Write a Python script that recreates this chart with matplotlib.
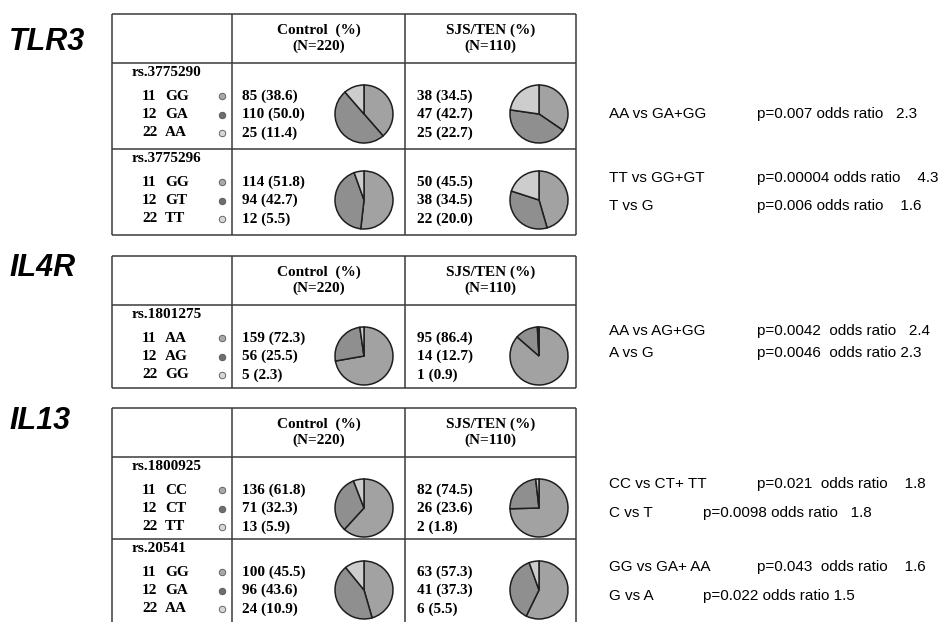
import matplotlib.pyplot as plt

# figure in pixel units (953 x 622), y measured from the top
W, H = 953, 622

genes = ['TLR3', 'IL4R', 'IL13']
snps = ['rs.3775290', 'rs.3775296', 'rs.1801275', 'rs.1800925', 'rs.20541']
snp_gene = [0, 0, 1, 2, 2]
codes = ['11', '12', '22']
genotypes = [['GG', 'GA', 'AA'], ['GG', 'GT', 'TT'], ['AA', 'AG', 'GG'],
             ['CC', 'CT', 'TT'], ['GG', 'GA', 'AA']]

control_n = [[85, 110, 25], [114, 94, 12], [159, 56, 5], [136, 71, 13], [100, 96, 24]]
control_pct = [[38.6, 50.0, 11.4], [51.8, 42.7, 5.5], [72.3, 25.5, 2.3],
               [61.8, 32.3, 5.9], [45.5, 43.6, 10.9]]
case_n = [[38, 47, 25], [50, 38, 22], [95, 14, 1], [82, 26, 2], [63, 41, 6]]
case_pct = [[34.5, 42.7, 22.7], [45.5, 34.5, 20.0], [86.4, 12.7, 0.9],
            [74.5, 23.6, 1.8], [57.3, 37.3, 5.5]]

col_headers = ['Control  (%)\n(N=220)', 'SJS/TEN (%)\n(N=110)']

# association results written at the right of each snp
tests = [
    [('AA vs GA+GG', 'p=0.007 odds ratio   2.3')],
    [('TT vs GG+GT', 'p=0.00004 odds ratio    4.3'), ('T vs G', 'p=0.006 odds ratio    1.6')],
    [('AA vs AG+GG', 'p=0.0042  odds ratio   2.4'), ('A vs G', 'p=0.0046  odds ratio 2.3')],
    [('CC vs CT+ TT', 'p=0.021  odds ratio    1.8'), ('C vs T', 'p=0.0098 odds ratio   1.8')],
    [('GG vs GA+ AA', 'p=0.043  odds ratio    1.6'), ('G vs A', 'p=0.022 odds ratio 1.5')],
]

# layout (pixels)
table_tops = [14, 256, 408]
header_h = 49
block_h = [86, 86, 83, 82, 86]
x_left, x_c1, x_c2, x_right = 112, 232, 405, 576
test_y = [[114], [178, 206], [331, 353], [484, 513], [567, 596]]
test_px = [[757], [757, 757], [757, 757], [757, 703], [757, 703]]

slice_colors = ['#a2a2a2', '#8f8f8f', '#cdcdcd']
dot_colors = ['#a8a8a8', '#6e6e6e', '#d6d6d6']
line_col = '#3a3a3a'
serif = 'Liberation Serif'
sans = 'Liberation Sans'


def Y(y):
    return H - y


fig = plt.figure(figsize=(W / 100, H / 100), dpi=100)
ax = fig.add_axes([0, 0, 1, 1])


def hline(x0, x1, y):
    ax.plot([x0, x1], [Y(y), Y(y)], color=line_col, lw=1.1, solid_capstyle='butt')


def vline(x, y0, y1):
    ax.plot([x, x], [Y(y0), Y(y1)], color=line_col, lw=1.1, solid_capstyle='butt')


label_y = [42, 268, 421]
for g, gene in enumerate(genes):
    ax.text(9, Y(label_y[g]), gene, fontsize=22, fontweight='bold', fontstyle='italic',
            family=sans, ha='left', va='center')

    top = table_tops[g]
    members = [i for i in range(len(snps)) if snp_gene[i] == g]
    bottom = top + header_h + sum(block_h[i] for i in members)
    bottom = min(bottom, H + 5)

    hline(x_left, x_right, top)
    hline(x_left, x_right, top + header_h)
    if bottom < H:
        hline(x_left, x_right, bottom)
    for x in [x_left, x_c1, x_c2, x_right]:
        vline(x, top, bottom)

    ax.text((x_c1 + x_c2) / 2, Y(top + header_h / 2), col_headers[0], fontsize=11,
            family=serif, fontweight='bold', ha='center', va='center', linespacing=1.25)
    ax.text((x_c2 + x_right) / 2, Y(top + header_h / 2), col_headers[1], fontsize=11,
            family=serif, fontweight='bold', ha='center', va='center', linespacing=1.25)

    y0 = top + header_h
    for i in members:
        if y0 != top + header_h:
            hline(x_left, x_right, y0)
        ax.text(132, Y(y0 + 10), snps[i], fontsize=11, family=serif, fontweight='bold',
                ha='left', va='center')
        for k in range(3):
            ry = y0 + 33 + 18.5 * k
            ax.text(142, Y(ry), codes[k], fontsize=11, family=serif, fontweight='bold',
                    ha='left', va='center')
            ax.text(165, Y(ry), genotypes[i][k], fontsize=11, family=serif,
                    fontweight='bold', ha='left', va='center')
            ax.scatter([222], [Y(ry)], s=22, color=dot_colors[k], edgecolors='#555555',
                       linewidths=0.6, zorder=3)
            ax.text(x_c1 + 10, Y(ry), f'{control_n[i][k]} ({control_pct[i][k]:.1f})',
                    fontsize=11, family=serif, fontweight='bold', ha='left', va='center')
            ax.text(x_c2 + 12, Y(ry), f'{case_n[i][k]} ({case_pct[i][k]:.1f})',
                    fontsize=11, family=serif, fontweight='bold', ha='left', va='center')

        for cx, pct in [(364, control_pct[i]), (539, case_pct[i])]:
            ax.pie(pct, colors=slice_colors, startangle=90, counterclock=False,
                   center=(cx, Y(y0 + 51)), radius=29, frame=True,
                   wedgeprops=dict(edgecolor='#1e1e1e', linewidth=1.1))

        for (cmp, res), ty, px in zip(tests[i], test_y[i], test_px[i]):
            ax.text(609, Y(ty), cmp, fontsize=11, family=sans, ha='left', va='center')
            ax.text(px, Y(ty), res, fontsize=11, family=sans, ha='left', va='center')

        y0 += block_h[i]

ax.set_xlim(0, W)
ax.set_ylim(0, H)
ax.set_aspect('auto')
ax.axis('off')

plt.savefig('out.png', dpi=100)
